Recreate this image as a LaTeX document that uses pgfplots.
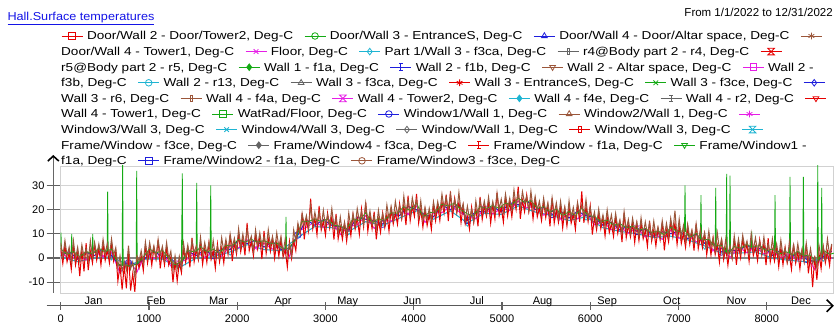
\documentclass[border=0pt]{standalone}
\usepackage{fontspec}
\setmainfont{Liberation Sans}
\newfontfamily\legfont[FakeStretch=1.18]{Liberation Sans}
\newfontfamily\titfont[FakeStretch=1.1]{Liberation Sans}
\usepackage{pgfplots}
\pgfplotsset{compat=1.18}
\usepackage{pgfplotstable}
\usetikzlibrary{arrows.meta}

\definecolor{cRed}{RGB}{230,0,0}
\definecolor{cGreen}{RGB}{20,170,20}
\definecolor{cBlue}{RGB}{30,30,220}
\definecolor{cBrown}{RGB}{155,86,58}
\definecolor{cMag}{RGB}{230,30,230}
\definecolor{cCyan}{RGB}{30,180,210}
\definecolor{cGray}{RGB}{100,100,100}
\definecolor{link}{RGB}{20,20,230}

% extra marker shapes used by the series
\pgfdeclareplotmark{hglass}{%
  \pgfpathmoveto{\pgfqpoint{-\pgfplotmarksize}{\pgfplotmarksize}}%
  \pgfpathlineto{\pgfqpoint{\pgfplotmarksize}{\pgfplotmarksize}}%
  \pgfpathlineto{\pgfqpoint{-\pgfplotmarksize}{-\pgfplotmarksize}}%
  \pgfpathlineto{\pgfqpoint{\pgfplotmarksize}{-\pgfplotmarksize}}%
  \pgfpathclose\pgfusepathqstroke}
\pgfdeclareplotmark{dtri}{%
  \pgfpathmoveto{\pgfqpoint{0pt}{-\pgfplotmarksize}}%
  \pgfpathlineto{\pgfqpoint{0.866\pgfplotmarksize}{0.5\pgfplotmarksize}}%
  \pgfpathlineto{\pgfqpoint{-0.866\pgfplotmarksize}{0.5\pgfplotmarksize}}%
  \pgfpathclose\pgfusepathqstroke}
\pgfdeclareplotmark{tbar}{%
  \pgfpathrectangle{\pgfqpoint{-0.35\pgfplotmarksize}{-\pgfplotmarksize}}{\pgfqpoint{0.7\pgfplotmarksize}{2\pgfplotmarksize}}%
  \pgfusepathqstroke}
\pgfdeclareplotmark{ibar}{%
  \pgfpathmoveto{\pgfqpoint{0pt}{-\pgfplotmarksize}}\pgfpathlineto{\pgfqpoint{0pt}{\pgfplotmarksize}}%
  \pgfpathmoveto{\pgfqpoint{-0.5\pgfplotmarksize}{-\pgfplotmarksize}}\pgfpathlineto{\pgfqpoint{0.5\pgfplotmarksize}{-\pgfplotmarksize}}%
  \pgfpathmoveto{\pgfqpoint{-0.5\pgfplotmarksize}{\pgfplotmarksize}}\pgfpathlineto{\pgfqpoint{0.5\pgfplotmarksize}{\pgfplotmarksize}}%
  \pgfusepathqstroke}

% legend sample: short line with the series marker
\newcommand\lsym[2]{\tikz[baseline=-4pt]{\draw[#1,line width=0.8pt] (0pt,0pt) -- (21pt,0pt);
  \begin{scope}[#1,line width=0.8pt,shift={(10.5pt,0pt)}]\pgfsetplotmarksize{3.3pt}\pgfuseplotmark{#2}\end{scope}}\hspace{4pt}}
\newcommand\gap{\hspace{11pt}}
\newcommand\legsize{\legfont\fontsize{11.5}{14}\selectfont}
\newcommand\ticksize{\fontsize{11}{13}\selectfont}

% window frame f1a: one value per day, alternating daily high / low
\pgfplotstableread[row sep=\\]{v\\
4.1\\-2.3\\5.2\\-1.6\\2.2\\-4.7\\5.3\\-2.9\\2.1\\-7.5\\
3.2\\-5.5\\6.1\\-5.0\\2.8\\-2.1\\5.6\\-0.9\\4.2\\-2.9\\
5.6\\-1.0\\3.4\\-2.1\\6.0\\-1.3\\2.4\\-9.5\\-3.0\\-13.0\\
-3.1\\-12.5\\1.9\\-13.5\\-6.5\\-14.0\\-0.6\\-4.1\\0.9\\-5.2\\
5.3\\-2.1\\3.6\\-3.0\\4.2\\-0.5\\7.6\\-4.3\\2.8\\-2.9\\
4.1\\-2.9\\0.4\\-10.0\\-1.4\\-9.5\\-1.8\\-6.1\\4.0\\-1.8\\
3.9\\-3.9\\8.2\\-1.6\\3.4\\-0.8\\5.9\\-2.6\\4.1\\-1.8\\
6.4\\-0.6\\2.9\\-4.2\\5.8\\-1.6\\4.1\\-2.0\\6.2\\1.5\\
9.6\\-1.3\\6.3\\1.6\\9.6\\2.6\\7.9\\1.1\\14.5\\3.0\\
6.7\\0.9\\10.0\\3.7\\8.4\\-0.4\\11.2\\1.9\\7.9\\2.7\\
8.4\\-0.1\\6.6\\0.7\\7.9\\0.4\\3.4\\-3.7\\6.8\\-0.1\\
7.1\\3.0\\13.2\\10.0\\18.6\\7.7\\15.8\\11.1\\24.5\\12.1\\
16.4\\9.6\\21.5\\11.5\\15.2\\9.4\\18.5\\12.2\\16.9\\7.6\\
18.2\\7.9\\12.9\\7.7\\14.4\\6.9\\14.6\\9.2\\17.9\\11.9\\
16.4\\9.8\\20.3\\12.9\\23.0\\11.0\\17.7\\12.0\\19.1\\7.7\\
15.8\\10.6\\18.6\\12.6\\17.9\\11.1\\20.1\\14.0\\18.7\\13.9\\
22.5\\16.2\\21.9\\13.6\\25.7\\15.4\\21.4\\17.2\\26.5\\14.4\\
20.1\\12.7\\19.9\\13.4\\17.9\\11.8\\22.3\\15.4\\21.6\\15.5\\
23.2\\18.5\\26.1\\15.2\\27.5\\16.6\\24.6\\18.6\\22.9\\14.6\\
21.6\\14.0\\17.2\\11.9\\21.0\\14.7\\20.4\\13.1\\25.2\\15.9\\
21.4\\17.2\\22.9\\14.4\\22.1\\16.2\\27.0\\17.4\\20.9\\14.8\\
25.3\\17.4\\23.1\\17.0\\24.7\\20.0\\29.5\\16.2\\23.8\\19.1\\
26.1\\19.1\\23.9\\16.1\\24.1\\17.0\\20.7\\15.4\\23.5\\16.7\\
21.9\\13.1\\24.7\\14.4\\19.9\\14.7\\20.9\\12.4\\20.1\\13.2\\
20.9\\14.4\\17.9\\11.8\\22.3\\14.9\\27.5\\14.5\\21.2\\15.0\\
21.6\\9.7\\16.8\\11.6\\18.6\\12.1\\16.4\\9.1\\17.1\\10.5\\
14.2\\8.9\\17.0\\10.2\\14.9\\6.6\\18.7\\8.4\\13.4\\8.7\\
14.4\\6.4\\14.1\\7.2\\14.4\\7.9\\11.4\\4.8\\15.3\\6.9\\
11.6\\5.0\\12.2\\7.5\\14.6\\3.2\\11.3\\6.6\\14.6\\8.6\\
14.4\\5.6\\13.1\\6.0\\10.2\\4.4\\13.0\\5.7\\10.9\\3.1\\
14.2\\3.9\\8.9\\4.2\\9.9\\1.4\\8.1\\1.2\\8.4\\1.4\\
5.4\\-1.7\\7.8\\-0.6\\4.1\\-3.0\\4.7\\0.0\\8.1\\-2.8\\
5.3\\0.1\\8.1\\1.6\\5.9\\-1.4\\7.6\\1.0\\4.7\\-1.1\\
7.5\\1.2\\5.9\\-2.9\\8.2\\-1.6\\3.4\\-1.3\\4.4\\-3.6\\
4.1\\-2.8\\4.4\\-2.1\\1.4\\-4.7\\5.8\\-2.1\\2.6\\-4.5\\
3.2\\-1.5\\5.6\\-6.3\\0.8\\-12.0\\0.6\\-9.0\\1.9\\-4.4\\
4.6\\-2.0\\2.7\\-3.1\\5.5\\
}\redT

% window frame f3ce: one value per day, alternating daily high / low
\pgfplotstableread[row sep=\\]{v\\
6.3\\0.5\\7.2\\0.9\\4.5\\-1.4\\7.1\\-0.3\\4.4\\-1.4\\
5.4\\0.4\\4.0\\-1.3\\7.1\\0.5\\6.4\\1.3\\5.8\\0.4\\
7.7\\1.6\\6.0\\0.8\\7.9\\1.1\\4.3\\-4.0\\0.9\\-5.6\\
-1.3\\-4.9\\5.1\\-4.5\\-1.6\\-7.9\\0.9\\-1.3\\3.0\\-2.1\\
6.6\\0.2\\6.4\\1.3\\5.0\\-0.1\\7.7\\1.1\\4.8\\-0.7\\
6.4\\-0.4\\2.8\\-5.0\\0.9\\-4.6\\0.7\\-3.9\\6.1\\0.0\\
5.4\\0.1\\7.4\\2.2\\5.0\\-0.1\\8.6\\1.2\\6.4\\1.8\\
6.5\\0.4\\7.2\\0.6\\4.8\\0.3\\8.4\\2.6\\7.8\\2.5\\
9.9\\4.4\\8.2\\3.1\\12.1\\4.5\\9.9\\4.6\\11.9\\6.2\\
9.0\\2.9\\11.6\\5.2\\10.4\\4.8\\9.0\\3.9\\11.7\\5.1\\
8.8\\3.3\\10.4\\4.6\\8.8\\2.0\\7.9\\1.4\\5.7\\1.1\\
11.6\\7.0\\14.4\\10.6\\18.4\\13.7\\17.5\\12.4\\21.6\\13.7\\
18.9\\14.3\\19.0\\12.9\\19.7\\13.1\\17.8\\13.3\\20.4\\13.1\\
16.8\\10.5\\16.9\\10.4\\14.7\\9.6\\18.6\\12.5\\18.4\\13.1\\
20.4\\15.2\\19.0\\13.9\\22.6\\14.7\\19.4\\13.8\\17.5\\11.9\\
19.7\\13.6\\18.3\\13.8\\21.9\\16.1\\21.3\\16.0\\23.4\\17.9\\
21.7\\16.6\\25.6\\18.5\\23.9\\17.6\\24.9\\20.2\\24.0\\16.9\\
23.6\\15.7\\20.9\\15.8\\20.5\\15.4\\23.2\\18.1\\23.3\\18.8\\
26.4\\20.6\\25.3\\20.0\\26.4\\19.9\\24.2\\19.1\\27.1\\19.0\\
22.4\\15.6\\21.4\\16.2\\20.0\\14.9\\23.6\\17.7\\23.9\\19.3\\
23.5\\18.4\\25.2\\18.6\\23.3\\18.8\\26.9\\20.1\\24.3\\19.0\\
26.4\\20.4\\24.7\\19.6\\28.1\\21.5\\26.9\\20.6\\27.4\\22.7\\
25.5\\19.4\\27.6\\20.2\\25.4\\19.8\\23.5\\17.9\\24.7\\18.6\\
22.8\\17.3\\24.9\\18.1\\22.8\\16.5\\23.4\\16.9\\21.2\\15.1\\
23.6\\16.5\\20.9\\15.6\\22.9\\18.2\\22.0\\16.9\\24.1\\16.2\\
20.9\\15.3\\19.0\\13.4\\20.2\\14.1\\17.8\\12.8\\19.9\\13.6\\
17.8\\12.0\\18.4\\12.4\\15.7\\10.1\\19.1\\11.5\\15.9\\10.1\\
16.4\\11.2\\15.0\\8.9\\16.6\\9.7\\14.9\\9.8\\14.5\\8.4\\
15.2\\9.1\\12.8\\8.3\\15.4\\9.1\\14.3\\9.0\\16.4\\10.9\\
19.5\\8.6\\16.1\\8.5\\13.4\\7.1\\13.9\\8.2\\11.5\\6.4\\
14.1\\6.7\\11.9\\6.8\\10.5\\4.4\\11.2\\4.6\\8.3\\2.8\\
10.4\\3.6\\7.8\\1.5\\7.9\\1.4\\5.2\\0.1\\9.1\\2.5\\
7.9\\2.1\\9.4\\4.2\\7.0\\1.4\\10.1\\3.2\\8.4\\2.8\\
7.0\\1.9\\8.7\\2.1\\5.8\\0.8\\7.9\\1.6\\5.8\\0.0\\
7.4\\0.9\\4.2\\-1.4\\6.6\\0.0\\5.4\\-0.4\\5.9\\0.2\\
3.5\\-1.6\\6.1\\-1.3\\3.9\\-2.2\\0.5\\-4.1\\5.2\\0.1\\
4.8\\-0.2\\7.9\\1.1\\5.8\\
}\brownT

% frame f1a on the radiator side, with heating spikes (hour, value)
\pgfplotstableread[row sep=\\]{h v\\
0 3.7\\3 10.5\\9 3.5\\72 1.5\\119 2.2\\125 10.0\\131 2.2\\144 2.7\\216 0.5\\288 2.7\\
357 1.8\\363 10.0\\369 2.0\\432 4.0\\504 2.5\\526 3.0\\532 27.4\\538 3.0\\576 3.7\\648 -2.5\\
696 -3.0\\702 39.0\\708 -3.0\\720 -2.8\\792 -3.5\\855 -2.5\\861 36.0\\867 -2.3\\936 0.5\\1008 3.7\\
1080 2.0\\1152 3.2\\1224 0.0\\1296 -2.8\\1368 -1.5\\1378 35.0\\1384 -1.0\\1440 3.2\\1512 2.5\\1535 3.0\\
1541 31.0\\1547 3.0\\1584 4.7\\1656 2.5\\1694 3.0\\1700 30.0\\1706 3.0\\1728 3.7\\1800 2.0\\1872 5.2\\
1944 5.0\\2016 7.7\\2088 6.5\\2160 7.7\\2232 6.5\\2304 7.2\\2376 6.0\\2448 6.2\\2520 3.5\\2547 4.0\\
2553 17.0\\2559 4.0\\2592 4.2\\2664 8.0\\2736 15.2\\2808 15.0\\2880 16.2\\2952 15.0\\3024 16.2\\3096 13.5\\
3168 13.2\\3240 12.0\\3312 16.2\\3384 15.5\\3456 18.7\\3528 14.5\\3600 16.2\\3672 15.5\\3744 18.7\\3816 18.5\\
3888 21.2\\3960 19.5\\4032 22.7\\4104 17.0\\4176 18.7\\4248 19.0\\4320 22.2\\4392 21.5\\4464 22.7\\4536 20.0\\
4608 18.2\\4680 17.5\\4752 21.2\\4824 20.5\\4896 21.7\\4968 20.5\\5040 22.7\\5112 22.0\\5184 24.7\\5256 23.0\\
5328 23.7\\5400 20.5\\5472 21.2\\5544 19.0\\5616 20.2\\5688 17.5\\5760 19.2\\5832 17.5\\5904 20.7\\5976 17.5\\
6048 17.2\\6120 15.0\\6192 15.7\\6264 13.5\\6336 14.2\\6408 12.5\\6480 13.2\\6552 11.5\\6624 12.2\\6696 10.5\\
6768 11.2\\6840 9.5\\6912 12.7\\6984 11.0\\7056 11.2\\7068 11.0\\7074 30.0\\7080 11.0\\7128 8.5\\7200 10.2\\
7249 8.0\\7255 26.0\\7261 8.0\\7272 7.5\\7344 7.7\\7416 4.5\\7422 29.0\\7428 5.0\\7488 5.2\\7540 2.5\\
7546 34.7\\7552 2.5\\7560 2.0\\7578 2.5\\7584 34.0\\7590 3.0\\7632 4.7\\7704 4.0\\7776 5.7\\7824 4.5\\
7830 11.0\\7836 4.5\\7848 4.5\\7920 5.2\\7992 3.0\\8064 3.7\\8088 3.0\\8094 26.0\\8100 3.0\\8136 1.5\\
8208 2.7\\8258 2.0\\8264 33.5\\8270 1.5\\8280 1.0\\8352 2.7\\8409 1.2\\8415 33.5\\8421 1.0\\8424 1.0\\
8496 1.2\\8568 -2.0\\8572 -1.5\\8578 39.0\\8584 -1.0\\8617 1.5\\8623 29.0\\8629 2.0\\8640 3.2\\8712 1.5\\
8760 2.0\\
}\greenT

% coarser sensors: every 4th day
\pgfplotstableread[row sep=\\]{v\\
2.5\\-0.5\\1.0\\-0.8\\2.5\\0.7\\2.5\\-6.3\\-0.5\\-5.8\\
1.5\\-0.3\\2.0\\-3.3\\-2.0\\-0.3\\2.5\\0.2\\2.5\\0.7\\
5.0\\4.2\\7.5\\4.2\\6.0\\3.7\\5.0\\0.7\\11.0\\12.7\\
15.0\\12.7\\15.0\\9.7\\13.0\\13.7\\17.5\\12.2\\15.5\\15.2\\
19.0\\18.2\\21.5\\14.7\\18.5\\18.7\\21.5\\19.2\\17.0\\16.2\\
20.5\\18.2\\20.5\\19.7\\23.5\\20.7\\21.5\\17.7\\19.5\\16.2\\
18.0\\16.2\\19.0\\13.7\\15.0\\11.7\\13.0\\10.2\\12.5\\8.7\\
10.5\\7.7\\11.5\\8.2\\9.5\\6.7\\7.5\\3.2\\4.0\\0.2\\
4.5\\2.2\\4.5\\1.7\\2.5\\0.2\\1.0\\-0.8\\1.0\\-4.8\\
2.0\\-0.3\\
}\magT

\pgfplotstableread[row sep=\\]{v\\
1.0\\2.6\\-0.5\\2.3\\1.0\\3.8\\1.0\\-3.2\\-2.0\\-2.7\\
0.0\\2.8\\0.5\\-0.2\\-3.5\\2.8\\1.0\\3.3\\1.0\\3.8\\
3.5\\7.3\\6.0\\7.3\\4.5\\6.8\\3.5\\3.8\\9.5\\15.8\\
13.5\\15.8\\13.5\\12.8\\11.5\\16.8\\16.0\\15.3\\14.0\\18.3\\
17.5\\21.3\\20.0\\17.8\\17.0\\21.8\\20.0\\22.3\\15.5\\19.3\\
19.0\\21.3\\19.0\\22.8\\22.0\\23.8\\20.0\\20.8\\18.0\\19.3\\
16.5\\19.3\\17.5\\16.8\\13.5\\14.8\\11.5\\13.3\\11.0\\11.8\\
9.0\\10.8\\10.0\\11.3\\8.0\\9.8\\6.0\\6.3\\2.5\\3.3\\
3.0\\5.3\\3.0\\4.8\\1.0\\3.3\\-0.5\\2.3\\-0.5\\-1.7\\
0.5\\2.8\\
}\blueT

% every 8th day
\pgfplotstableread[row sep=\\]{v\\
0.5\\-1.5\\0.0\\0.5\\-3.0\\-0.5\\-0.5\\-4.0\\0.0\\0.5\\
2.5\\5.5\\3.5\\3.0\\8.5\\13.0\\12.5\\11.0\\15.0\\13.5\\
16.5\\19.5\\16.0\\19.5\\14.5\\18.5\\18.0\\21.5\\19.0\\17.5\\
15.5\\17.0\\12.5\\11.0\\10.0\\8.5\\9.0\\7.5\\5.0\\2.0\\
2.0\\2.5\\0.0\\-1.0\\-1.5\\0.0\\
}\cyanT

\begin{document}
\begin{tikzpicture}
\path[use as bounding box] (0pt,0pt) rectangle (835pt,326pt);

\node[anchor=base west,inner sep=0pt,text=link,font=\titfont\fontsize{11.5}{14}\selectfont] at (7.3pt,305.3pt) {\underline{Hall.Surface temperatures}};
\node[anchor=base east,inner sep=0pt,font=\fontsize{11.5}{14}\selectfont] at (833pt,309.3pt) {From 1/1/2022 to 12/31/2022};

% legend, flowing over nine lines
\begin{scope}[every node/.style={anchor=base west,inner sep=0pt,font=\legsize}]
\node at (61pt,286.0pt) {\lsym{cRed}{square}Door/Wall 2 - Door/Tower2, Deg-C\gap\lsym{cGreen}{o}Door/Wall 3 - EntranceS, Deg-C\gap\lsym{cBlue}{triangle}Door/Wall 4 - Door/Altar space, Deg-C\gap\lsym{cBrown}{asterisk}};
\node at (61pt,270.4pt) {Door/Wall 4 - Tower1, Deg-C\gap\lsym{cMag}{x}Floor, Deg-C\gap\lsym{cCyan}{diamond}Part 1/Wall 3 - f3ca, Deg-C\gap\lsym{cGray}{tbar}r4@Body part 2 - r4, Deg-C\gap\lsym{cRed}{hglass}};
\node at (61pt,254.8pt) {r5@Body part 2 - r5, Deg-C\gap\lsym{cGreen}{diamond*}Wall 1 - f1a, Deg-C\gap\lsym{cBlue}{ibar}Wall 2 - f1b, Deg-C\gap\lsym{cBrown}{dtri}Wall 2 - Altar space, Deg-C\gap\lsym{cMag}{square}Wall 2 -};
\node at (61pt,239.2pt) {f3b, Deg-C\gap\lsym{cCyan}{o}Wall 2 - r13, Deg-C\gap\lsym{cGray}{triangle}Wall 3 - f3ca, Deg-C\gap\lsym{cRed}{asterisk}Wall 3 - EntranceS, Deg-C\gap\lsym{cGreen}{x}Wall 3 - f3ce, Deg-C\gap\lsym{cBlue}{diamond}};
\node at (61pt,223.6pt) {Wall 3 - r6, Deg-C\gap\lsym{cBrown}{tbar}Wall 4 - f4a, Deg-C\gap\lsym{cMag}{hglass}Wall 4 - Tower2, Deg-C\gap\lsym{cCyan}{diamond*}Wall 4 - f4e, Deg-C\gap\lsym{cGray}{ibar}Wall 4 - r2, Deg-C\gap\lsym{cRed}{dtri}};
\node at (61pt,208.0pt) {Wall 4 - Tower1, Deg-C\gap\lsym{cGreen}{square}WatRad/Floor, Deg-C\gap\lsym{cBlue}{o}Window1/Wall 1, Deg-C\gap\lsym{cBrown}{triangle}Window2/Wall 1, Deg-C\gap\lsym{cMag}{asterisk}};
\node at (61pt,192.4pt) {Window3/Wall 3, Deg-C\gap\lsym{cCyan}{x}Window4/Wall 3, Deg-C\gap\lsym{cGray}{diamond}Window/Wall 1, Deg-C\gap\lsym{cRed}{tbar}Window/Wall 3, Deg-C\gap\lsym{cCyan}{hglass}};
\node at (61pt,176.8pt) {Frame/Window - f3ce, Deg-C\gap\lsym{cGray}{diamond*}Frame/Window4 - f3ca, Deg-C\gap\lsym{cRed}{ibar}Frame/Window - f1a, Deg-C\gap\lsym{cGreen}{dtri}Frame/Window1 -};
\node at (61pt,161.2pt) {f1a, Deg-C\gap\lsym{cBlue}{square}Frame/Window2 - f1a, Deg-C\gap\lsym{cBrown}{o}Frame/Window3 - f3ce, Deg-C};
\end{scope}

% plot area: hours of the year against temperature, detached axis lines
\begin{axis}[at={(60.7pt,33pt)},anchor=south west,scale only axis,
  width=773.1pt,height=127pt,
  xmin=0,xmax=8760,ymin=-14.46,ymax=38,
  clip mode=individual,
  axis background/.style={fill=white,draw=black!18,line width=0.8pt},
  axis x line*=bottom,axis y line*=left,
  axis x line shift=12.7pt,axis y line shift=7.4pt,
  x axis line style={draw=black!65,line width=1.3pt,shorten <=-14pt,
    -{Straight Barb[length=6pt,width=12pt,line width=1.6pt,color=black]}},
  y axis line style={draw=black!60,line width=1.5pt,shorten >=-11pt,
    -{Straight Barb[length=5pt,width=11pt,line width=1.6pt,color=black]}},
  xtick=\empty,
  minor xtick={744,1416,2160,2880,3624,4344,5088,5832,6552,7296,8016},
  xminorgrids=true,minor grid style={draw=black!17,line width=0.8pt},
  minor tick length=4pt,
  extra x ticks={0,1000,2000,3000,4000,5000,6000,7000,8000},
  extra x tick labels={0,1000,2000,3000,4000,5000,6000,7000,8000},
  extra x tick style={xmajorgrids=false,major tick length=8.3pt},
  ytick={-10,0,10,20,30},yticklabels={-10,0,10,20,30},
  ymajorgrids=true,major grid style={draw=black!17,line width=0.8pt},
  extra y ticks={0},extra y tick labels={},
  extra y tick style={ymajorgrids=true,major tick length=0pt,
    major grid style={draw=black!48,line width=1.4pt}},
  tick align=center,major tick length=13.3pt,
  tick style={draw=black!62,line width=1.3pt},
  xticklabel style={font=\ticksize,inner sep=0pt,anchor=north,yshift=-4.5pt},
  yticklabel style={font=\ticksize,inner sep=0pt,anchor=east,xshift=-2pt},
  every axis plot/.append style={line width=1pt},
]
\addplot[cCyan,mark=diamond,mark size=3.3pt,mark repeat=7,mark phase=4,mark options={line width=0.7pt}] table[x expr=\coordindex*192,y=v] {\cyanT};
\addplot[cMag,mark=x,mark size=3.3pt,mark repeat=9,mark phase=6,mark options={line width=0.7pt}] table[x expr=\coordindex*96,y=v] {\magT};
\addplot[cBlue,mark=o,mark size=3.3pt,mark repeat=10,mark phase=9,mark options={line width=0.7pt}] table[x expr=\coordindex*96,y=v] {\blueT};
\addplot[cRed] table[x expr=\coordindex*24,y=v] {\redT};
\addplot[cGreen,line width=0.8pt] table[x=h,y=v] {\greenT};
\addplot[cBrown] table[x expr=\coordindex*24,y=v] {\brownT};
% month names sit on the time axis
\begin{scope}[every node/.style={anchor=base,yshift=-11.3pt,font=\ticksize}]
\node at (axis cs:372,-14.46) {Jan};
\node at (axis cs:1080,-14.46) {Feb};
\node at (axis cs:1788,-14.46) {Mar};
\node at (axis cs:2520,-14.46) {Apr};
\node at (axis cs:3252,-14.46) {May};
\node at (axis cs:3984,-14.46) {Jun};
\node at (axis cs:4716,-14.46) {Jul};
\node at (axis cs:5460,-14.46) {Aug};
\node at (axis cs:6192,-14.46) {Sep};
\node at (axis cs:6924,-14.46) {Oct};
\node at (axis cs:7656,-14.46) {Nov};
\node at (axis cs:8388,-14.46) {Dec};
\end{scope}
\end{axis}
\end{tikzpicture}
\end{document}
